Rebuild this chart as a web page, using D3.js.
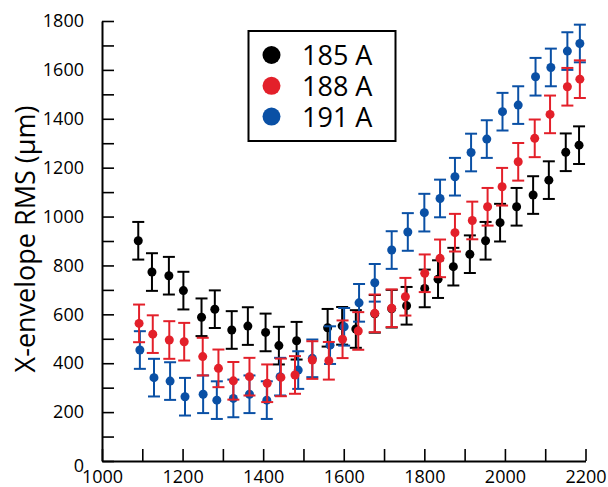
<!DOCTYPE html>
<html>
<head>
<meta charset="utf-8">
<script src="https://cdn.jsdelivr.net/npm/d3@7"></script>
<style>
  body { margin: 0; background: #fff; }
  svg text { font-family: "Open Sans", sans-serif; fill: #000; }
</style>
</head>
<body>
<div id="chart"></div>
<script>
// Werte
var x185 = [1090, 1124, 1166, 1202, 1247, 1280, 1322, 1362, 1406, 1439, 1483, 1560, 1596, 1630, 1677, 1719, 1756, 1801, 1834, 1872, 1913, 1952, 1988, 2029, 2070, 2109, 2151, 2184]
var y185 = [901, 773, 758, 697, 588, 621, 536, 552, 526, 472, 492, 545, 553, 540, 602, 623, 635, 706, 744, 795, 846, 901, 975, 1040, 1088, 1149, 1263, 1292]

var x188 = [1092, 1126, 1167, 1204, 1250, 1289, 1326, 1366, 1410, 1444, 1479, 1522, 1563, 1597, 1636, 1677, 1719, 1753, 1801, 1839, 1876, 1919, 1957, 1993, 2033, 2074, 2112, 2155, 2186]
var y188 = [563, 519, 495, 488, 427, 379, 328, 345, 318, 342, 352, 413, 410, 498, 532, 604, 625, 672, 768, 829, 934, 984, 1040, 1122, 1224, 1320, 1418, 1531, 1562]

var x191 = [1094, 1129, 1169, 1206, 1251, 1285, 1326, 1366, 1409, 1442, 1487, 1522, 1566, 1601, 1638, 1677, 1719, 1759, 1800, 1839, 1876, 1916, 1955, 1994, 2033, 2076, 2114, 2155, 2186]
var y191 = [454, 341, 327, 263, 273, 249, 256, 273, 249, 345, 372, 420, 474, 549, 647, 729, 863, 937, 1016, 1074, 1163, 1262, 1317, 1429, 1456, 1572, 1610, 1677, 1708]

var fehler = 77   // Fehlerbalken +/- (µm)

var serien = [
  { name: "185 A", color: "#000000", x: x185, y: y185 },
  { name: "191 A", color: "#0a50a5", x: x191, y: y191 },
  { name: "188 A", color: "#e3202a", x: x188, y: y188 }
]
var legendeReihenfolge = ["185 A", "188 A", "191 A"]

var width = 608
var height = 487

var svg = d3.select("#chart")
  .append("svg")
  .attr("width", width)
  .attr("height", height)

var x = d3.scaleLinear().domain([1000, 2200]).range([102, 585.5])
var y = d3.scaleLinear().domain([0, 1800]).range([461, 21])

// Achsen
var xAxis = d3.axisBottom(x)
  .tickValues(d3.range(1000, 2201, 100))
  .tickSizeInner(-12)
  .tickSizeOuter(0)
  .tickPadding(9)
  .tickFormat(function(d){ return d % 200 == 0 ? d : "" })

var yAxis = d3.axisLeft(y)
  .tickValues(d3.range(0, 1801, 100))
  .tickSizeInner(-12)
  .tickSizeOuter(0)
  .tickPadding(18)
  .tickFormat(function(d){ return d % 200 == 0 ? d : "" })

var gx = svg.append("g")
  .attr("transform", "translate(0," + y(0) + ")")
  .call(xAxis)
gx.selectAll("text").style("font-size", "18px")

var gy = svg.append("g")
  .attr("transform", "translate(" + x(1000) + ",0)")
  .call(yAxis)
gy.selectAll("text").style("font-size", "18px")
gy.selectAll(".tick").filter(function(d){ return d == 0 }).select("text").attr("dy", "0.6em")

svg.selectAll(".domain").attr("stroke", "#000").attr("stroke-width", 2)
svg.selectAll(".tick line").attr("stroke", "#000").attr("stroke-width", 1.6)

// Achsentitel
svg.append("text")
  .attr("transform", "translate(35,239) rotate(-90)")
  .attr("text-anchor", "middle")
  .style("font-size", "27px")
  .text("X-envelope RMS (µm)")

// Punkte mit Fehlerbalken
serien.forEach(function(s){
  var pts = s.x.map(function(v, i){ return { x: v, y: s.y[i] } })
  var g = svg.append("g")
  var cap = 6

  g.selectAll("line.bar").data(pts).enter().append("line")
    .attr("x1", function(d){ return x(d.x) })
    .attr("x2", function(d){ return x(d.x) })
    .attr("y1", function(d){ return y(d.y - fehler) })
    .attr("y2", function(d){ return y(d.y + fehler) })
    .attr("stroke", s.color).attr("stroke-width", 2)

  g.selectAll("line.top").data(pts).enter().append("line")
    .attr("x1", function(d){ return x(d.x) - cap })
    .attr("x2", function(d){ return x(d.x) + cap })
    .attr("y1", function(d){ return y(d.y + fehler) })
    .attr("y2", function(d){ return y(d.y + fehler) })
    .attr("stroke", s.color).attr("stroke-width", 2)

  g.selectAll("line.bot").data(pts).enter().append("line")
    .attr("x1", function(d){ return x(d.x) - cap })
    .attr("x2", function(d){ return x(d.x) + cap })
    .attr("y1", function(d){ return y(d.y - fehler) })
    .attr("y2", function(d){ return y(d.y - fehler) })
    .attr("stroke", s.color).attr("stroke-width", 2)

  g.selectAll("circle").data(pts).enter().append("circle")
    .attr("cx", function(d){ return x(d.x) })
    .attr("cy", function(d){ return y(d.y) })
    .attr("r", 4.5)
    .attr("fill", s.color)
})

// Legende
var legende = svg.append("g")
legende.append("rect")
  .attr("x", 248.5).attr("y", 31)
  .attr("width", 147).attr("height", 110)
  .attr("fill", "#fff").attr("stroke", "#000").attr("stroke-width", 2)

legendeReihenfolge.forEach(function(n, i){
  var s = serien.filter(function(d){ return d.name == n })[0]
  legende.append("circle")
    .attr("cx", 271.5).attr("cy", 55 + i * 30.8)
    .attr("r", 9).attr("fill", s.color)
  legende.append("text")
    .attr("x", 302).attr("y", 65 + i * 30.8)
    .style("font-size", "27px")
    .text(n)
})
</script>
</body>
</html>
